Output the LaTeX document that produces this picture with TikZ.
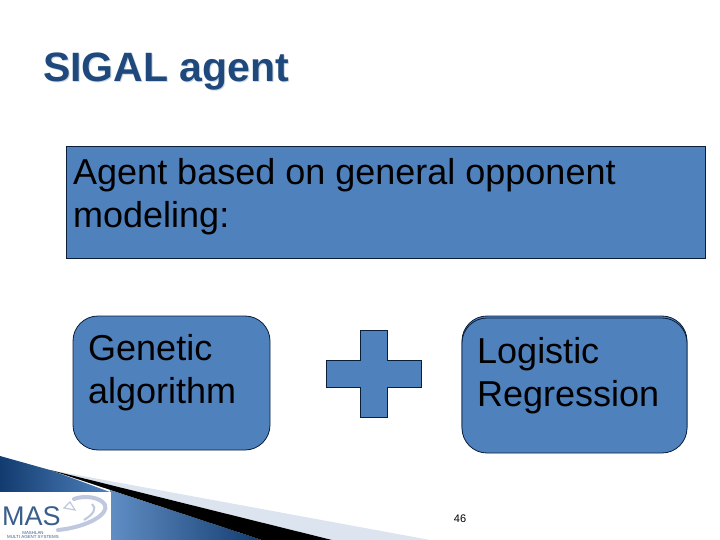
\documentclass[tikz,border=0pt]{standalone}
\usepackage{fontspec}
\setmainfont{Liberation Sans}
\definecolor{fillblue}{HTML}{4F81BD}
\definecolor{titleblue}{HTML}{1F497D}
\definecolor{edge}{HTML}{0A1E38}
\definecolor{lightband}{HTML}{DCE4EF}
\definecolor{logoblue}{HTML}{3A5E8C}
\definecolor{swoosh}{HTML}{BFC8DE}
\definecolor{deepblue}{HTML}{123C70}
\tikzset{
  x=1pt,y=-1pt,
  panel/.style={draw=edge,line width=0.8pt,fill=fillblue},
  bodytext/.style={anchor=north west,inner sep=0pt,align=left,font=\fontsize{36}{43}\selectfont,text=black},
}
\begin{document}
\begin{tikzpicture}
\useasboundingbox (0,0) rectangle (720,540);
\fill[white] (0,0) rectangle (720,540);
% bottom bands
\fill[lightband] (50,470) -- (430,540) -- (332,540) -- cycle;
\shade[left color=deepblue,right color=fillblue] (0,456) -- (50,470) -- (110,492) -- (0,492) -- cycle;
\shade[left color=fillblue!90!white,right color=deepblue] (110,490) -- (262,540) -- (111,540) -- cycle;
\fill[black] (50,470) -- (332,540) -- (262,540) -- cycle;
% logo
\fill[white] (0,492) rectangle (111,540);
\draw[swoosh,line width=4pt,line cap=round] (58,530) .. controls (88,527) and (109,514) .. (105,505) .. controls (101,497) and (84,495) .. (74,499);
\draw[swoosh,line width=2pt] (84,520) .. controls (94,514) and (97,508) .. (92,504);
\draw[swoosh,line width=1.2pt] (64,508) -- (70,502) -- (75,510) -- cycle;
\node[anchor=base west,inner sep=0pt,text=logoblue,font=\fontsize{27}{27}\selectfont] (logo) at (2,525) {MAS};
\node[anchor=center,inner sep=0pt,text=logoblue,font=\fontsize{4.4}{4.8}\selectfont,align=center] (logosub) at (33,535) {MASHLAN\\MULTI AGENT SYSTEMS};
% title
\node[anchor=base west,inner sep=0pt,text=titleblue!22,font=\bfseries\fontsize{41}{41}\selectfont] (titleshadow) at (44,83) {SIGAL agent};
\node[anchor=base west,inner sep=0pt,text=titleblue,font=\bfseries\fontsize{41}{41}\selectfont] (title) at (43,82) {SIGAL agent};
% panels
\draw[panel] (66,146) rectangle (705,258);
\node[bodytext] (main) at (73,158) {Agent based on general opponent\\modeling:};
\draw[panel,rounded corners=25] (73,316) rectangle (270,450);
\node[bodytext] (left) at (88,334) {Genetic\\algorithm};
\draw[panel,rounded corners=25] (462,316) rectangle (687,451);
\draw[panel,rounded corners=25] (462,318) rectangle (687,453);
\node[bodytext] (right) at (477,337) {Logistic\\Regression};
\draw[panel] (360,330) -- (387,330) -- (387,360) -- (421,360) -- (421,387) -- (387,387) -- (387,417) -- (360,417) -- (360,387) -- (326,387) -- (326,360) -- (360,360) -- cycle;
\node[inner sep=0pt,font=\fontsize{11}{11}\selectfont,text=black] (page) at (460,519) {46};
\end{tikzpicture}
\end{document}
